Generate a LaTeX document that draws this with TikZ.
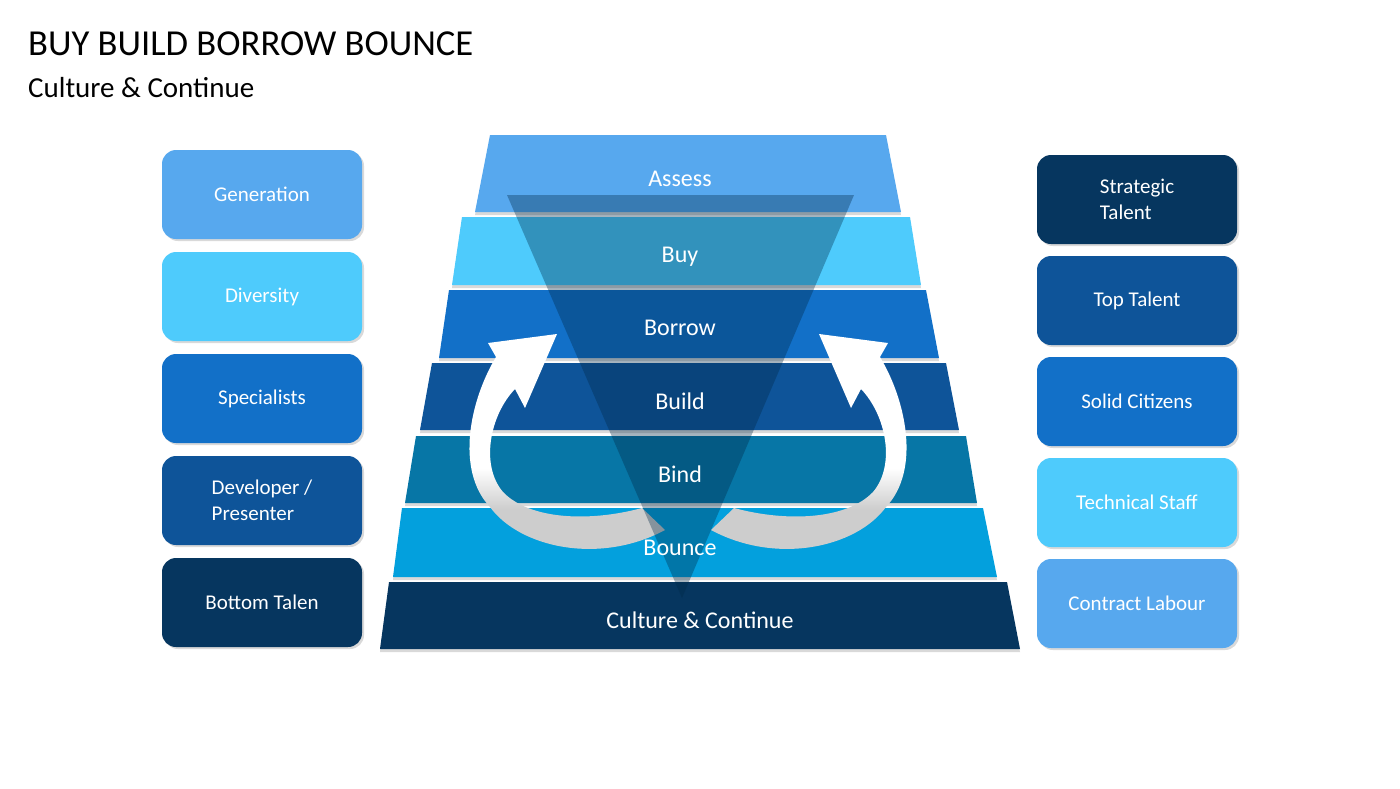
\documentclass[tikz,border=0pt]{standalone}
\usepackage{fontspec}
\setmainfont{Carlito}
\usepackage{xcolor}
\usetikzlibrary{shadows}
\definecolor{skyblue}{RGB}{87,168,238}
\definecolor{paleblue}{RGB}{78,203,252}
\definecolor{midblue}{RGB}{18,112,200}
\definecolor{deepblue}{RGB}{14,84,153}
\definecolor{tealblue}{RGB}{7,118,166}
\definecolor{brightblue}{RGB}{3,160,221}
\definecolor{navyblue}{RGB}{6,54,95}
\definecolor{funnelshade}{RGB}{0,40,70}
\definecolor{tailgrey}{RGB}{205,205,205}

% grey tail, white head
\pgfdeclareverticalshading{curlshade}{100bp}{color(0bp)=(tailgrey); color(37bp)=(tailgrey);
  color(46bp)=(white); color(100bp)=(white)}

\tikzset{
  layer/.style={drop shadow={shadow xshift=0pt, shadow yshift=-3pt, opacity=0.3}},
  steplabel/.style={anchor=base, inner sep=0pt, text=white, font=\fontsize{24}{28}\selectfont},
  sidebox/.style={rounded corners=14pt, minimum width=200pt, minimum height=89pt, align=left, text=white,
    font=\fontsize{21}{26}\selectfont, drop shadow={shadow xshift=2pt, shadow yshift=-2pt, opacity=0.3}},
  curlarrow/.style={shading=curlshade}
}

% one curved arrow, the right one is its mirror image
\newcommand{\curlpath}{(496,357) .. controls (470,400) and (455,470) .. (490,507)
  .. controls (520,548) and (600,565) .. (665,530) -- (642,508)
  .. controls (590,522) and (530,520) .. (503,492)
  .. controls (480,465) and (490,415) .. (515,389)
  -- (525,408) -- (557,334) -- (488,343) -- cycle}

\begin{document}
\begin{tikzpicture}[x=1pt, y=-1pt]
\useasboundingbox (0,0) rectangle (1400,788);

% title
\node[anchor=base west, inner sep=0pt, font=\fontsize{36.6}{40}\selectfont] (title) at (28,55) {BUY BUILD BORROW BOUNCE};
\node[anchor=base west, inner sep=0pt, font=\fontsize{29}{32}\selectfont] (subtitle) at (28,97) {Culture \& Continue};

% stacked layers
\foreach \ty/\by/\tl/\tr/\bl/\br/\col in {135/212/490/886/475/901/skyblue,
    217/285/462/910/452/921/paleblue, 290/358/449/926/439/939/midblue,
    363/430/432/946/420/959/deepblue, 436/503/416/966/405/977/tealblue,
    508/577/402/983/393/997/brightblue, 582/649/389/1007/380/1020/navyblue} {
  \fill[layer, fill=\col] (\tl,\ty) -- (\tr,\ty) -- (\br,\by) -- (\bl,\by) -- cycle;
}

% curved arrows
\path[curlarrow] \curlpath;
\begin{scope}[xshift=1376pt, xscale=-1]
  \path[curlarrow] \curlpath;
\end{scope}

% funnel
\fill[funnelshade, opacity=0.35] (507,195) -- (854,195) -- (682,598) -- cycle;

% layer labels
\foreach \nm/\x/\y/\txt in {assess/680/186/Assess, buy/680/262/Buy, borrow/680/335/Borrow,
    build/680/409/Build, bind/680/482/Bind, bounce/680/555/Bounce, culture/700/628/Culture \& Continue} {
  \node[steplabel] (\nm) at (\x,\y) {\txt};
}

% side boxes
\foreach \txt/\col [count=\i] in {Generation/skyblue, Diversity/paleblue, Specialists/midblue,
    {Developer /\\Presenter}/deepblue, Bottom Talen/navyblue} {
  \node[sidebox, fill=\col] (lbox\i) at (262,{194.5+102*(\i-1)}) {\txt};
}
\foreach \txt/\col [count=\i] in {{Strategic\\Talent}/navyblue, Top Talent/deepblue, Solid Citizens/midblue,
    Technical Staff/paleblue, Contract Labour/skyblue} {
  \node[sidebox, fill=\col] (rbox\i) at (1137,{199.5+101*(\i-1)}) {\txt};
}
\end{tikzpicture}
\end{document}
